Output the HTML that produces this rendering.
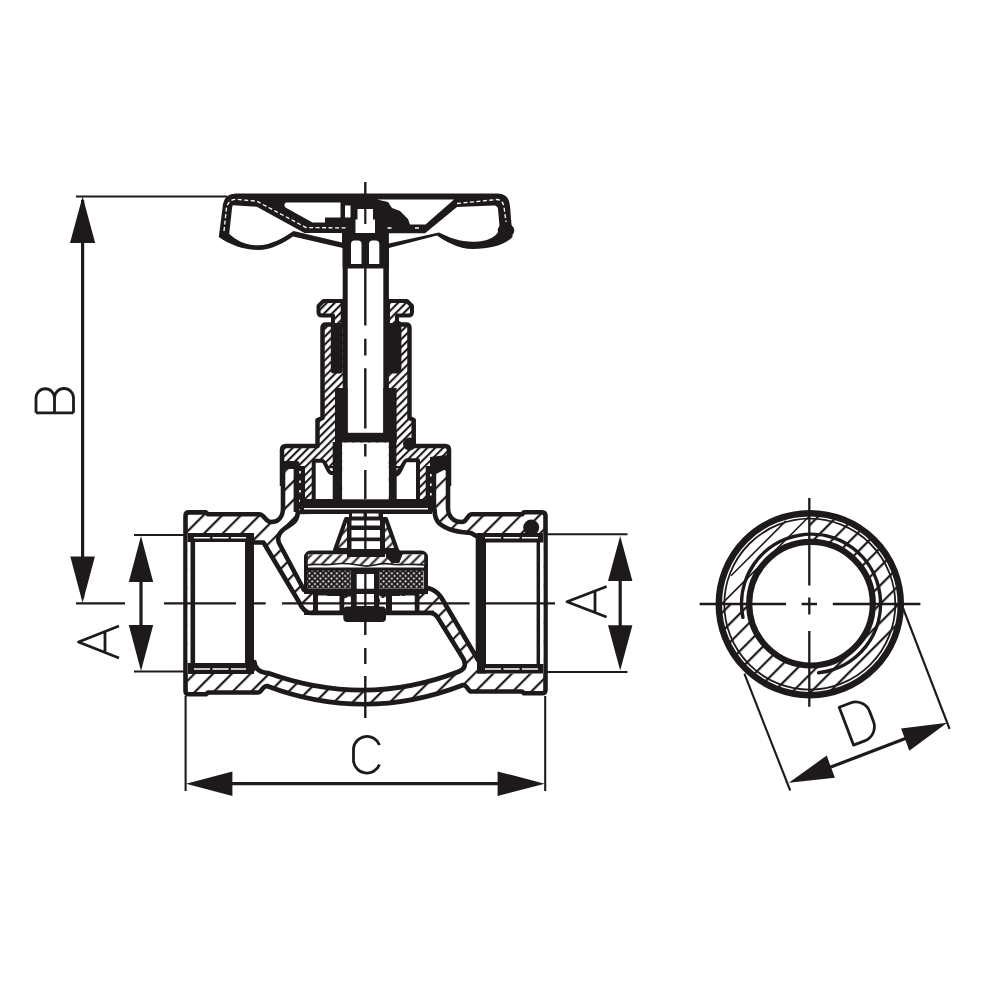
<!DOCTYPE html>
<html><head><meta charset="utf-8"><title>Valve drawing</title>
<style>
html,body{margin:0;padding:0;background:#fff;width:1000px;height:1000px;overflow:hidden;font-family:"Liberation Sans",sans-serif;}
svg{display:block}
</style></head><body>
<svg width="1000" height="1000" viewBox="0 0 1000 1000">
<defs>
<pattern id="hb" patternUnits="userSpaceOnUse" width="13.2" height="13.2" patternTransform="rotate(45)">
<rect width="13.2" height="13.2" fill="#fff"/><rect x="5.6" y="0" width="2.2" height="13.2" fill="#1e1a1b"/></pattern>
<pattern id="hp" patternUnits="userSpaceOnUse" width="8" height="8" patternTransform="rotate(45)">
<rect width="8" height="8" fill="#fff"/><rect x="3.1" y="0" width="1.8" height="8" fill="#1e1a1b"/></pattern>
<pattern id="hf" patternUnits="userSpaceOnUse" width="5.6" height="5.6" patternTransform="rotate(45)">
<rect width="5.6" height="5.6" fill="#fff"/><rect x="1.8" y="0" width="2.1" height="5.6" fill="#1e1a1b"/></pattern>
<pattern id="hd" patternUnits="userSpaceOnUse" width="7" height="7" patternTransform="rotate(45)">
<rect width="7" height="7" fill="#fff"/><rect x="2.5" y="0" width="2.0" height="7" fill="#1e1a1b"/></pattern>
<pattern id="hc" patternUnits="userSpaceOnUse" width="13.2" height="13.2" patternTransform="rotate(45)">
<rect width="13.2" height="13.2" fill="#fff"/><rect x="5.6" y="0" width="2.2" height="13.2" fill="#1e1a1b"/></pattern>
<pattern id="dots" patternUnits="userSpaceOnUse" width="5.5" height="5.4" x="308" y="572">
<rect width="5.5" height="5.4" fill="#1e1a1b"/><circle cx="1.4" cy="1.3" r="1.0" fill="#fff"/><circle cx="4.15" cy="4.0" r="1.0" fill="#fff"/></pattern>
</defs>

<g id="dims" stroke="#1e1a1b" fill="none">
  <!-- B dimension -->
  <line x1="76" y1="196.5" x2="227" y2="196.5" stroke-width="2.2"/>
  <line x1="82.6" y1="200" x2="82.6" y2="598" stroke-width="3.2"/>
  <path d="M82.6,196.5 L70,243 L95.2,243Z M82.6,602.8 L70.3,556.5 L94.9,556.5Z" fill="#1e1a1b" stroke="none"/>
  <!-- A left -->
  <line x1="134" y1="535" x2="186" y2="535" stroke-width="2.1"/>
  <line x1="134" y1="671.5" x2="186" y2="671.5" stroke-width="2.1"/>
  <line x1="141" y1="560" x2="141" y2="648" stroke-width="3.2"/>
  <path d="M141,536 L128.8,582 L153.2,582Z M141,671 L128.8,625 L153.2,625Z" fill="#1e1a1b" stroke="none"/>
  <!-- A right -->
  <line x1="547" y1="534.3" x2="627.5" y2="534.3" stroke-width="2.1"/>
  <line x1="547" y1="672" x2="627.5" y2="672" stroke-width="2.1"/>
  <line x1="620.2" y1="560" x2="620.2" y2="648" stroke-width="3.2"/>
  <path d="M620.2,536 L608,581 L632.4,581Z M620.2,670.5 L608,625.2 L632.4,625.2Z" fill="#1e1a1b" stroke="none"/>
  <!-- C -->
  <line x1="185.6" y1="696" x2="185.6" y2="791" stroke-width="2.1"/>
  <line x1="545.2" y1="696" x2="545.2" y2="791" stroke-width="2.1"/>
  <line x1="210" y1="783.7" x2="520" y2="783.7" stroke-width="3.2"/>
  <path d="M186,783.7 L232.4,771.4 L232.4,796Z M544.8,783.7 L497.6,771.4 L497.6,796Z" fill="#1e1a1b" stroke="none"/>
  <!-- D -->
  <line x1="744.4" y1="673.6" x2="790.2" y2="790.5" stroke-width="2.1"/>
  <line x1="903" y1="608" x2="949.6" y2="729" stroke-width="2.1"/>
  <line x1="810" y1="775" x2="925" y2="731" stroke-width="3.2"/>
  <path d="M788.8,782.8 L826.7,755.6 L834.9,777.8Z M947.2,722.8 L901.1,728.6 L909.3,750.8Z" fill="#1e1a1b" stroke="none"/>
</g>

<g id="letters" stroke="#1e1a1b" fill="none" stroke-width="2.8" stroke-linejoin="round">
  <!-- B rotated -->
  <path d="M36,412.8 L73.5,412.8 M36,412.8 L36,398 A9.25,9.25 0 0 1 54.5,398 L54.5,412.8 M54.5,398 A9.5,9.5 0 0 1 73.5,398 L73.5,412.8"/>
  <!-- A left rotated -->
  <path d="M119,626 L78.5,642 L119,658 M105,632.5 L105,651.5"/>
  <!-- A right rotated -->
  <path d="M606.6,586.5 L567,601.8 L606.6,617 M595,592 L595,612.6"/>
  <!-- C -->
  <path d="M379.5,745 A13.5,13.5 0 0 0 353.5,748.5 L353.5,761 A13.5,13.5 0 0 0 379.5,764.5"/>
  <!-- D rotated -->
  <g transform="translate(839.2,707.2) rotate(-20.7)">
    <path d="M0,0 L0,40.5 L12,40.5 A15,15 0 0 0 27,25.5 L27,15 A15,15 0 0 0 12,0 Z"/>
  </g>
</g>


<!-- ===== BODY ===== -->
<g id="body" stroke="#1e1a1b" stroke-linejoin="round">
 <path fill="url(#hb)" stroke-width="4.6" d="M185.5,516 Q185.5,512.4 189,512.4 L206,512.4 L208,514.3 L259,514.3 C265,514.3 265,522 271,522 C279,522 283,516 283,508 L283,466 L448,466 L448,508 C448,516 453,522 462,522 C467,522 467,514.3 472,514.3 L522,514.3 L524,512.2 L542,512.2 Q545.5,512.2 545.5,516 L545.5,690 Q545.5,693.3 542,693.3 L524,693.3 L522,691.5 L472,691.5 C468,692.5 468,685 463,685 Q365,723 267,686 C262,686 262,692.5 258,692.5 L208,692.5 L206,694.3 L189,694.3 Q185.5,694.3 185.5,691 Z"/>
 <!-- lower chamber -->
 <path fill="#fff" stroke-width="4.6" d="M250,542.5 L263.5,542.5 L299,602 Q304,613 311,613 L430,613 Q435,613 438,618 L463.5,659 Q467.5,668 459,671.5 Q365,708 268,673 C260,673 254.5,668 254.5,662 L250,662 Z"/>
 <!-- upper chamber -->
 <path fill="#fff" stroke-width="4.6" d="M298,512 C297,523 291,524 284,529 C279,533 277,538 279,543 L304,590 L428,588 Q436,590 441,597 L478,660 L478,537 L471,533 C460,532 449,531 440,524 C435,520 434.6,515 434.6,510 Z"/>
 <!-- left bore -->
 <rect x="187.5" y="533.5" width="66" height="140" fill="#fff" stroke="none"/>
 <rect x="187.5" y="533" width="65" height="9" fill="#1e1a1b" stroke="none"/>
 <rect x="187.5" y="663" width="65" height="11" fill="#1e1a1b" stroke="none"/>
 <rect x="245" y="533" width="9" height="141" fill="#1e1a1b" stroke="none"/>
 <line x1="192.8" y1="540" x2="192.8" y2="667" stroke-width="4.6"/>
 <path d="M194,537.7 L246,537.7 M194,669 L246,669" stroke="#fff" stroke-width="1.5" stroke-dasharray="16 2.5"/>
 <!-- right bore -->
 <rect x="477" y="533" width="66.5" height="140.5" fill="#fff" stroke="none"/>
 <rect x="477" y="533" width="66.5" height="9.5" fill="#1e1a1b" stroke="none"/>
 <rect x="477" y="664" width="66.5" height="9.5" fill="#1e1a1b" stroke="none"/>
 <rect x="477" y="533" width="9" height="140.5" fill="#1e1a1b" stroke="none"/>
 <line x1="538.3" y1="540" x2="538.3" y2="667" stroke-width="3.5"/>
 <path d="M485,537.7 L538,537.7 M485,669 L538,669" stroke="#fff" stroke-width="1.5" stroke-dasharray="16 2.5"/>
 <circle cx="531.2" cy="527.6" r="8" fill="#1e1a1b" stroke="none"/>
</g>


<!-- ===== BONNET / STEM / GLAND ===== -->
<g id="bonnet" stroke="#1e1a1b" stroke-linejoin="round">
 <!-- bonnet outer -->
 <path fill="url(#hf)" stroke="none" d="M326,324.5 L406,324.5 Q409.5,324.5 409.5,328 L409.5,418 L413.7,420 L413.7,446 L446,446 Q450,446 450,450 L450,466 L281,466 L281,450 Q281,446 285,446 L317.5,446 L317.5,420 L322.5,418 L322.5,328 Q322.5,324.5 326,324.5 Z"/>
 <path fill="url(#hf)" stroke="none" d="M299,462 L313,462 L313,501 L299,501 Z M417.5,462 L432,462 L432,501 L417.5,501 Z"/>
 <path fill="none" stroke-width="4.5" d="M282,486 L282,450 Q282,446 286,446 L317.5,446 L317.5,420 L322.5,418 L322.5,328 Q322.5,324.5 326,324.5 L406,324.5 Q409.5,324.5 409.5,328 L409.5,418 L413.7,420 L413.7,446 L445,446 Q449,446 449,450 L449,486"/>
 <rect x="293.6" y="466" width="11.4" height="46" fill="#1e1a1b" stroke="none"/>
 <line x1="300" y1="471" x2="300" y2="510" stroke="#fff" stroke-width="1.6" stroke-dasharray="2.5 7"/>
 <rect x="425.7" y="466" width="10.5" height="46" fill="#1e1a1b" stroke="none"/>
 <line x1="430.8" y1="474" x2="430.8" y2="510" stroke="#fff" stroke-width="1.6" stroke-dasharray="2.5 7"/>
 <!-- gaskets -->
 <path fill="#1e1a1b" stroke="none" d="M280,461 L297,461 Q299.5,461 299.5,464 L299.5,469 L280,469 Z"/>
 <path fill="#1e1a1b" stroke="none" d="M430,457 L447,455 L451,460 L451,472 L444,470 L436,474 L430,472 Z"/>
 <!-- cavities -->
 <path fill="#fff" stroke-width="4" d="M313.7,460.8 L322,460.8 C326,461 327,472 331,473 L336,473 L336,501.4 L313.7,501.4 Z"/>
 <path fill="#fff" stroke-width="4" d="M418,460.3 L407,460.3 C403,460.3 401,473 397,474.5 L394.5,474.5 L394.5,501.4 L418,501.4 Z"/>
 <!-- bottom plate -->
 <rect x="300" y="499" width="132" height="15" fill="#1e1a1b" stroke="none"/>
 <line x1="304" y1="508.7" x2="428" y2="508.7" stroke="#fff" stroke-width="1.4"/>
 <!-- packing -->
 <rect x="330.8" y="322.5" width="12" height="51" rx="3" fill="#1e1a1b" stroke="none"/>
 <rect x="382.7" y="321" width="18.7" height="52.5" rx="3" fill="#1e1a1b" stroke="none"/>
 <circle cx="409.5" cy="444" r="6.5" fill="#1e1a1b" stroke="none"/>
 <!-- gland -->
 <path fill="url(#hf)" stroke-width="4" d="M342.7,301 L323.5,301 L318.5,306 L318.5,312 Q318.5,315.5 322,315.5 L333,315.5 L333,325 L342.7,325 Z"/>
 <path fill="url(#hf)" stroke-width="4" d="M388,301 L407,301 L412,306 L412,312 Q412,315.5 408.5,315.5 L397,315.5 L397,325 L388,325 Z"/>
 <!-- stem -->
 <rect x="345" y="240" width="41" height="200" fill="#fff" stroke="none"/>
 <rect x="342.7" y="232" width="5" height="210" fill="#1e1a1b" stroke="none"/>
 <rect x="383.3" y="232" width="5.6" height="210" fill="#1e1a1b" stroke="none"/>
 <rect x="335" y="388" width="12.6" height="54" fill="#1e1a1b" stroke="none"/>
 <rect x="383.3" y="388" width="13.3" height="54" fill="#1e1a1b" stroke="none"/>
 <rect x="335" y="432.8" width="61.6" height="9.8" fill="#1e1a1b" stroke="none"/>
 <rect x="332.7" y="442" width="9.5" height="58" fill="#1e1a1b" stroke="none"/>
 <rect x="388.7" y="442" width="7.7" height="58" fill="#1e1a1b" stroke="none"/>
 <rect x="342.2" y="442.6" width="46.5" height="56.7" fill="#fff" stroke="none"/>
</g>


<!-- ===== DISC ===== -->
<g id="disc" stroke="#1e1a1b" stroke-linejoin="round">
 <!-- stem end through plate -->
 <rect x="349" y="512" width="34" height="8" fill="#1e1a1b" stroke="none"/>
 <rect x="352" y="513.5" width="11.5" height="3" fill="#fff" stroke="none"/>
 <rect x="367" y="513.5" width="11.5" height="3" fill="#fff" stroke="none"/>
 <!-- holder -->
 <path fill="url(#hd)" stroke-width="4" d="M346,519 L386,519 L397,550 L335,550 Z"/>
 <rect x="347" y="518" width="38" height="39" fill="#1e1a1b" stroke="none"/>
 <rect x="351.5" y="520.5" width="28.5" height="5" fill="#fff" stroke="none"/>
 <rect x="351.5" y="530" width="28.5" height="7.5" fill="#fff" stroke="none"/>
 <rect x="351.5" y="541.2" width="28.5" height="8.3" fill="#fff" stroke="none"/>
 <rect x="364.2" y="520" width="2.3" height="30" fill="#1e1a1b" stroke="none"/>
 <!-- disc body -->
 <rect x="306" y="552.5" width="120" height="41" rx="4.5" fill="#fff" stroke-width="4"/>
 <path fill="url(#hd)" stroke="none" d="M307.8,554.5 L424.2,554.5 L424.2,565 C410,563 400,566 390,564 C380,562 372,567 365,566 C355,565 345,562 335,564 C325,566 315,563 307.8,565 Z"/>
 <path fill="none" stroke-width="1.6" d="M307.8,565 C315,563 325,566 335,564 C345,562 355,565 365,566 C372,567 380,562 390,564 C400,566 410,563 424.2,565"/>
 <rect x="347" y="549" width="38" height="8" fill="#1e1a1b" stroke="none"/>
 <path fill="#1e1a1b" stroke="none" d="M386,549 L398,548.5 L402.5,554 L401,558 L399,563 L392,563 L386,557 Z"/>
 <rect x="304" y="567.5" width="124" height="3.5" fill="#1e1a1b" stroke="none"/>
 <rect x="307.2" y="570.7" width="43.5" height="18" fill="url(#dots)" stroke="none"/>
 <rect x="379.2" y="570.7" width="44.3" height="18" fill="url(#dots)" stroke="none"/>
 <rect x="350.7" y="570.7" width="28.5" height="37" fill="#1e1a1b" stroke="none"/>
 <rect x="356.7" y="574" width="7.5" height="32" fill="#fff" stroke="none"/>
 <rect x="366.5" y="574" width="7.5" height="32" fill="#fff" stroke="none"/>
 <path fill="#1e1a1b" stroke="none" d="M304,588.7 L428,588.7 L428,594 L400,594 L400,596.5 L380,596.5 L380,594 L350.7,594 L350.7,596.5 L330,596.5 L330,594 L304,594 Z"/>
 <!-- seat ring -->
 <path fill="url(#hb)" stroke="none" d="M302,594 L314,594 L314,611 L309,611 Z"/>
 <path fill="url(#hb)" stroke="none" d="M419,594 L432,594 L441,611 L419,611 Z"/>
 <rect x="313" y="594" width="5" height="18" fill="#1e1a1b" stroke="none"/>
 <rect x="414.5" y="594" width="5" height="18" fill="#1e1a1b" stroke="none"/>
 <rect x="318" y="596" width="21.5" height="15" fill="#fff" stroke="none"/>
 <rect x="392" y="596" width="22.5" height="15" fill="#fff" stroke="none"/>
 <rect x="339.5" y="594" width="5" height="18" fill="#1e1a1b" stroke="none"/>
 <rect x="386" y="594" width="6" height="18" fill="#1e1a1b" stroke="none"/>
 <rect x="344.5" y="598" width="6.3" height="10" fill="#fff" stroke="none"/>
 <rect x="380" y="598" width="6" height="10" fill="#fff" stroke="none"/>
 <rect x="304" y="610.5" width="130" height="4.5" fill="#1e1a1b" stroke="none"/>
 <rect x="343.3" y="606.5" width="42.7" height="15.5" rx="4" fill="#1e1a1b" stroke="none"/>
 <path fill="#1e1a1b" stroke="none" d="M386,549 L398,548.5 L402.5,554 L401,558 L399,563 L392,563 L386,557 Z"/>
</g>

<!-- ===== HANDWHEEL ===== -->
<g id="wheel" stroke="none">
 <path fill="#1e1a1b" d="M236,193.6 L497,193.6 Q509,193.6 510,206 L512.5,237 C505,245 490,249 473,249 C458,249 445,241 437,235.5 L388.9,248 L388.9,268.5 L342.7,268.5 L342.7,248 L293,236.5 C285,242 272,250 258,250 C245,250 230,245 218.8,237 L223,204 Q225,193.6 236,193.6 Z"/>
 <path fill="#fff" d="M233,205.3 L256.8,206.8 L304.5,233 L342,233 L342,242.5 L293.5,231 C285,237 271,245.3 258,245.3 C246,245.3 237,241 229.2,234 L232,208.5 Q232.3,205.3 233,205.3 Z"/>
 <path fill="#fff" d="M286,202.5 L340.5,202.5 L340.5,217.5 L325,217.5 L325,222.5 L312.5,222.5 L285.5,207.5 Q283,204 286,202.5 Z"/>
 <path fill="#fff" d="M377,199.5 L454,199.5 L425.5,224.5 L410,224.5 L408,219 L400,211 L392,208 L388,202 Z"/>
 <path fill="#fff" d="M388.9,233.2 L425,233.2 L457,207 L494,205.5 Q497.5,205.5 498,209 L499.5,226 C500,236 488,241.8 473,241.8 C460,241.8 449,237.5 439,232.5 L388.9,243.5 Z"/>
 <rect x="345" y="205.5" width="5.5" height="12" fill="#fff"/>
 <path fill="#fff" d="M357.5,209 L373,209 L373,219.5 L375,219.5 L375,233 L355.5,233 L355.5,219.5 L357.5,219.5 Z"/>
 <path d="M351,264 L351,244 Q351,240.5 354.5,240.5 L358,240.5 Q361.5,240.5 361.5,244 L361.5,264 Z" fill="#fff"/>
 <path d="M369,264 L369,244 Q369,240.5 372.5,240.5 L375.8,240.5 Q379.3,240.5 379.3,244 L379.3,264 Z" fill="#fff"/>
 <path d="M224,231 L226.4,208.4 Q228,199.5 236,199.3 L256.8,201.2 L306,227.5 L348,228" fill="none" stroke="#fff" stroke-width="1.3" stroke-dasharray="4 2.5"/>
 <path d="M387.5,228 L394,228 M415,228 L421,228 M457,203.5 L497,199.5 Q503,200 504,207 L506,222" fill="none" stroke="#fff" stroke-width="1.3" stroke-dasharray="4 2.5"/>
 <ellipse cx="506" cy="230.5" rx="8.3" ry="7" fill="#1e1a1b"/>
 <rect x="364.2" y="209" width="2.2" height="15" fill="#1e1a1b"/>
</g>

<!-- centre lines -->
<g stroke="#1e1a1b" stroke-width="2.4" fill="none">
  <path d="M76,603.4 L125,603.4 M164,603.4 L236,603.4 M253.6,603.4 L265.7,603.4 M282,603.4 L469.5,603.4 M486,603.4 L555,603.4"/>
  <path d="M365.3,182 L365.3,194"/>
  <path d="M365.3,262 L365.3,325.5 M365.3,338.8 L365.3,355.6 M365.3,368.2 L365.3,428.6 M365.3,444 L365.3,456.6 M365.3,470 L365.3,499"/>
  <path d="M365.3,622 L365.3,635 M365.3,648 L365.3,664 M365.3,676 L365.3,718"/>
</g>

<!-- ===== END VIEW (circle) ===== -->
<g id="endview">
  <clipPath id="notUL"><path d="M600,400 L1000,400 L1000,800 L600,800 L600,604 L809.3,604 L809.3,400 Z"/></clipPath>
  <circle cx="809.3" cy="604" r="76" fill="none" stroke="url(#hc)" stroke-width="30" clip-path="url(#notUL)"/>
  <path d="M722,603.6 L809.3,516.3 M731,575.8 L785.9,520.9" stroke="#1e1a1b" stroke-width="1.6"/>
  <circle cx="809.8" cy="604.2" r="91" fill="none" stroke="#1e1a1b" stroke-width="6.5"/>
  <circle cx="809.8" cy="604.2" r="85.5" fill="none" stroke="#1e1a1b" stroke-width="1.8"/>
  <circle cx="811" cy="603.7" r="61.8" fill="#fff" stroke="#1e1a1b" stroke-width="6.2"/>
  <path d="M742.9,617.3 A69.5,69.5 0 1 1 818.6,672.8" fill="none" stroke="#1e1a1b" stroke-width="3.5" stroke-linecap="round"/>
  <g stroke="#1e1a1b" stroke-width="2.3">
    <path d="M699.6,604 L786,604 M801.6,604 L817,604 M832.8,604 L920.4,604"/>
    <path d="M809.3,498 L809.3,585.6 M809.3,597.6 L809.3,614.4 M809.3,631 L809.3,706.8"/>
  </g>
</g>

</svg>
</body></html>
